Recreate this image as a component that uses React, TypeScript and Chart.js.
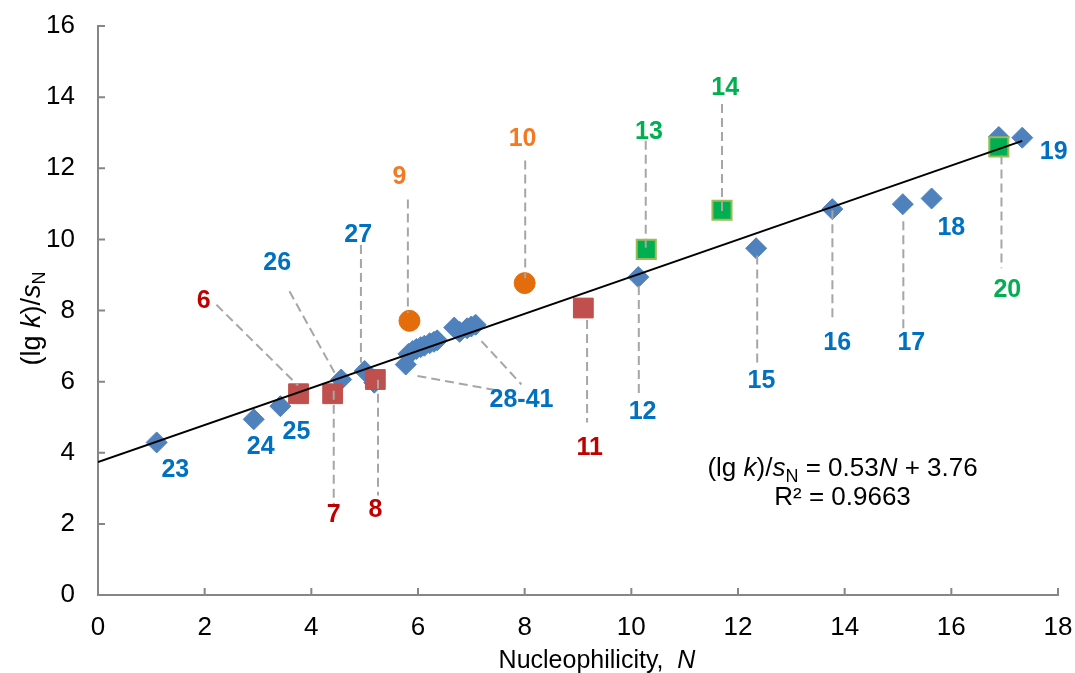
import { useEffect, useRef } from "react";
import { Chart, registerables } from "chart.js";

Chart.register(...registerables);

const FONT = "'Liberation Sans', Arial, sans-serif";

// Blue diamonds (compounds 12, 15-19, 23-41)
const blueX = [1.10, 2.92, 3.42, 4.56, 5.00, 5.18, 5.77, 5.82, 5.90, 5.97, 6.05, 6.12, 6.22, 6.30, 6.36, 6.68, 6.78, 6.92, 7.00, 7.08, 10.13, 12.34, 13.77, 15.09, 15.63, 17.33, 16.89];
const blueY = [4.29, 4.94, 5.31, 6.06, 6.30, 5.97, 6.48, 6.78, 6.86, 6.92, 6.97, 7.01, 7.08, 7.12, 7.16, 7.52, 7.40, 7.50, 7.55, 7.60, 8.94, 9.75, 10.85, 10.99, 11.15, 12.86, 12.88];

// Red squares (6, 7, 8, 11)
const redX = [3.76, 4.40, 5.20, 9.10];
const redY = [5.66, 5.66, 6.06, 8.07];

// Orange circles (9, 10)
const orangeX = [5.84, 8.00];
const orangeY = [7.71, 8.77];

// Green squares (13, 14, 20)
const greenX = [10.28, 11.70, 16.89];
const greenY = [9.72, 10.82, 12.60];

// Trend line end points
const trendX = [0, 17.33];
const trendY = [3.74, 12.77];

// Tick settings
const xTickMin = 0, xTickMax = 18, xTickStep = 2;
const yTickMin = 0, yTickMax = 16, yTickStep = 2;

// Point labels (in data units)
const labelText = ["6", "7", "8", "11", "9", "10", "13", "14", "20", "12", "15", "16", "17", "18", "19", "23", "24", "25", "26", "27", "28-41"];
const labelGroup = ["red", "red", "red", "red", "orange", "orange", "green", "green", "green", "blue", "blue", "blue", "blue", "blue", "blue", "blue", "blue", "blue", "blue", "blue", "blue"];
const labelX = [1.98, 4.42, 5.20, 9.22, 5.65, 7.96, 10.33, 11.76, 17.05, 10.21, 12.44, 13.86, 15.25, 16.00, 17.92, 1.45, 3.05, 3.72, 3.36, 4.88, 7.94];
const labelY = [8.27, 2.24, 2.38, 4.12, 11.74, 12.83, 13.03, 14.24, 8.58, 5.13, 6.02, 7.09, 7.09, 10.31, 12.45, 3.51, 4.17, 4.57, 9.34, 10.12, 5.49];

// Leader lines (data units)
const leaderX1 = [2.22, 3.59, 4.93, 5.81, 8.01, 10.27, 11.70, 4.42, 5.25, 9.17, 10.14, 12.36, 13.77, 15.10, 16.94, 5.99, 7.19];
const leaderY1 = [8.16, 8.54, 9.84, 11.12, 12.22, 12.77, 13.81, 5.74, 6.05, 7.73, 8.69, 9.55, 10.82, 10.51, 12.36, 6.16, 7.14];
const leaderX2 = [3.75, 4.47, 4.93, 5.81, 8.01, 10.27, 11.70, 4.42, 5.25, 9.17, 10.14, 12.36, 13.77, 15.10, 16.94, 7.53, 7.94];
const leaderY2 = [5.89, 6.16, 6.53, 7.93, 8.91, 9.69, 10.73, 2.52, 2.80, 4.85, 5.55, 6.47, 7.73, 7.37, 9.19, 5.74, 5.92];

// Equation annotation position (data units)
const eqX = 13.96;
const eqY1 = 3.6;
const eqY2 = 2.8;

const groupColor: Record<string, string> = {
  blue: "#0070C0",
  red: "#C00000",
  orange: "#F47920",
  green: "#00B050",
};

type Part = { t: string; it?: boolean; sub?: boolean };

function drawRich(ctx: CanvasRenderingContext2D, parts: Part[], cx: number, cy: number, size: number, color: string) {
  const fonts = parts.map((p) => `${p.it ? "italic " : ""}${p.sub ? Math.round(size * 0.68) : size}px ${FONT}`);
  let total = 0;
  const widths = parts.map((p, i) => {
    ctx.font = fonts[i];
    const w = ctx.measureText(p.t).width;
    total += w;
    return w;
  });
  let x = cx - total / 2;
  ctx.fillStyle = color;
  ctx.textAlign = "left";
  ctx.textBaseline = "alphabetic";
  const base = cy + size * 0.36;
  parts.forEach((p, i) => {
    ctx.font = fonts[i];
    ctx.fillText(p.t, x, p.sub ? base + size * 0.2 : base);
    x += widths[i];
  });
}

const overlayPlugin = {
  id: "overlay",
  afterDraw(chart: any) {
    const ctx: CanvasRenderingContext2D = chart.ctx;
    const xs = chart.scales.x;
    const ys = chart.scales.y;
    const area = chart.chartArea;
    ctx.save();

    // inside tick marks
    ctx.strokeStyle = "#868686";
    ctx.lineWidth = 2;
    ctx.beginPath();
    xs.ticks.forEach((t: any) => {
      const px = xs.getPixelForValue(t.value);
      ctx.moveTo(px, area.bottom);
      ctx.lineTo(px, area.bottom - 7);
    });
    ys.ticks.forEach((t: any) => {
      const py = ys.getPixelForValue(t.value);
      ctx.moveTo(area.left, py);
      ctx.lineTo(area.left + 7, py);
    });
    ctx.stroke();

    // leader lines
    ctx.strokeStyle = "#A6A6A6";
    ctx.lineWidth = 2;
    ctx.setLineDash([9, 5]);
    for (let i = 0; i < leaderX1.length; i++) {
      ctx.beginPath();
      ctx.moveTo(xs.getPixelForValue(leaderX1[i]), ys.getPixelForValue(leaderY1[i]));
      ctx.lineTo(xs.getPixelForValue(leaderX2[i]), ys.getPixelForValue(leaderY2[i]));
      ctx.stroke();
    }
    ctx.setLineDash([]);

    // point labels
    ctx.font = `bold 25px ${FONT}`;
    ctx.textAlign = "center";
    ctx.textBaseline = "middle";
    for (let i = 0; i < labelText.length; i++) {
      ctx.fillStyle = groupColor[labelGroup[i]];
      ctx.fillText(labelText[i], xs.getPixelForValue(labelX[i]), ys.getPixelForValue(labelY[i]));
    }

    // equation
    drawRich(
      ctx,
      [{ t: "(lg " }, { t: "k", it: true }, { t: ")/" }, { t: "s", it: true }, { t: "N", sub: true }, { t: " = 0.53" }, { t: "N", it: true }, { t: " + 3.76" }],
      xs.getPixelForValue(eqX),
      ys.getPixelForValue(eqY1),
      26,
      "#000"
    );
    drawRich(ctx, [{ t: "R² = 0.9663" }], xs.getPixelForValue(eqX), ys.getPixelForValue(eqY2), 26, "#000");

    // x axis title
    drawRich(ctx, [{ t: "Nucleophilicity,  " }, { t: "N", it: true }], (area.left + area.right) / 2 + 19, 659, 25, "#000");

    // y axis title
    ctx.save();
    ctx.translate(30, (area.top + area.bottom) / 2 + 8);
    ctx.rotate(-Math.PI / 2);
    drawRich(ctx, [{ t: "(lg " }, { t: "k", it: true }, { t: ")/" }, { t: "s", it: true }, { t: "N", sub: true }], 0, 0, 27, "#000");
    ctx.restore();

    ctx.restore();
  },
};

function pts(xs: number[], ys: number[]) {
  return xs.map((x, i) => ({ x, y: ys[i] }));
}

export default function App() {
  const ref = useRef<HTMLCanvasElement>(null);

  useEffect(() => {
    if (!ref.current) return;
    const chart = new Chart(ref.current, {
      type: "scatter",
      data: {
        datasets: [
          {
            type: "line",
            data: pts(trendX, trendY),
            borderColor: "#000",
            borderWidth: 2,
            pointRadius: 0,
            fill: false,
            order: 0,
          } as any,
          {
            data: pts(greenX, greenY),
            pointStyle: "rect",
            pointRadius: 13.5,
            backgroundColor: "#00B050",
            borderColor: "#9BBB59",
            borderWidth: 2,
            order: 1,
          },
          {
            data: pts(redX, redY),
            pointStyle: "rect",
            pointRadius: 14,
            backgroundColor: "#C0504D",
            borderColor: "#C0504D",
            borderWidth: 1,
            order: 2,
          },
          {
            data: pts(orangeX, orangeY),
            pointStyle: "circle",
            pointRadius: 10.5,
            backgroundColor: "#E46C0A",
            borderColor: "#E46C0A",
            borderWidth: 1,
            order: 3,
          },
          {
            data: pts(blueX, blueY),
            pointStyle: "rectRot",
            pointRadius: 10.5,
            backgroundColor: "#4F81BD",
            borderColor: "#4F81BD",
            borderWidth: 1,
            order: 4,
          },
        ],
      },
      options: {
        animation: false,
        responsive: true,
        maintainAspectRatio: false,
        events: [],
        layout: { padding: { top: 26, right: 17, left: 0, bottom: 0 } },
        plugins: { legend: { display: false }, tooltip: { enabled: false } },
        scales: {
          x: {
            type: "linear",
            min: xTickMin,
            max: xTickMax,
            ticks: { stepSize: xTickStep, padding: 0, color: "#000", font: { family: FONT, size: 26 } },
            grid: { display: false, drawTicks: true, tickLength: 17 },
            border: { display: true, color: "#868686", width: 2 },
            afterFit: (s: any) => {
              s.height = 78;
            },
          },
          y: {
            type: "linear",
            min: yTickMin,
            max: yTickMax,
            ticks: { stepSize: yTickStep, padding: 0, color: "#000", font: { family: FONT, size: 26 } },
            grid: { display: false, drawTicks: true, tickLength: 23 },
            border: { display: true, color: "#868686", width: 2 },
            afterFit: (s: any) => {
              s.width = 98;
            },
          },
        },
      },
      plugins: [overlayPlugin],
    });
    return () => chart.destroy();
  }, []);

  return (
    <div style={{ position: "absolute", left: 0, top: 0, width: 1075, height: 673 }}>
      <canvas ref={ref} />
    </div>
  );
}
